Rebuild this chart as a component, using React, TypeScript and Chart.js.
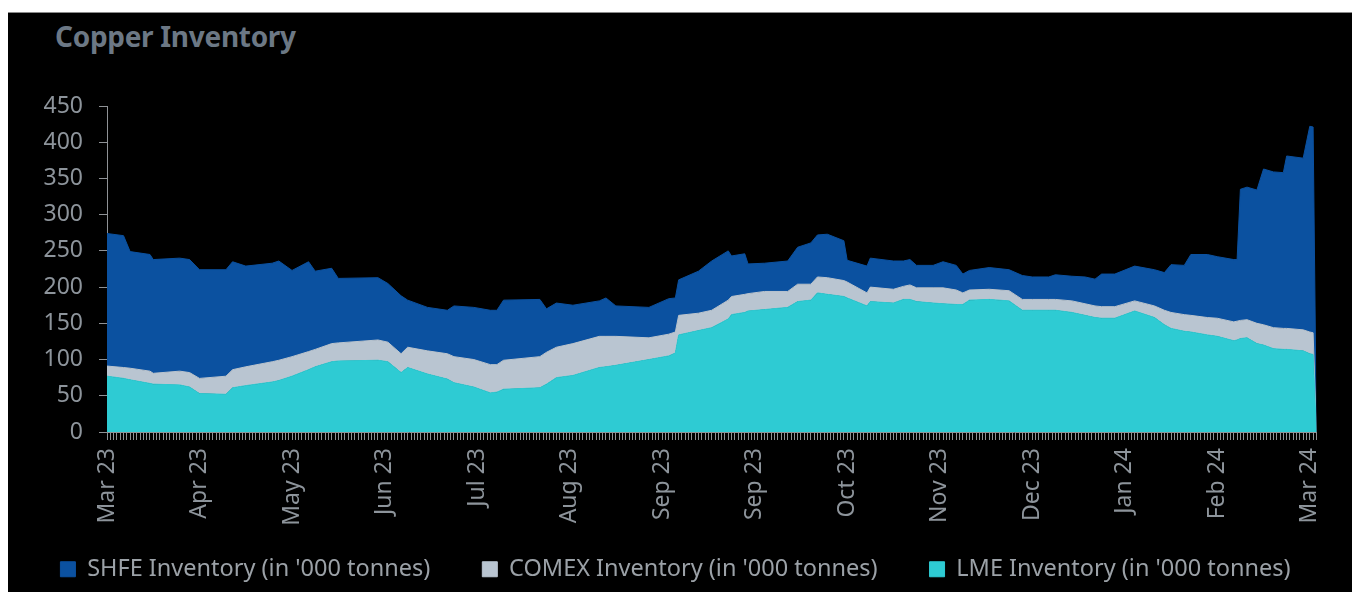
import React, { useEffect, useRef } from "react";
import { Chart, registerables } from "chart.js";

Chart.register(...registerables);

// Day index (0 = first daily observation, ~mid-March 2023)
const DAYS = [
  0, 5, 7, 13, 14, 22, 25, 28, 36, 38, 42, 50, 52, 56, 61, 63, 68, 70, 82, 85,
  89, 91, 97, 103, 105, 111, 116, 118, 120, 131, 133, 136, 141, 149, 151, 154,
  164, 170, 172, 173, 179, 183, 188, 189, 193, 194, 199, 206, 209, 213, 215,
  218, 223, 224, 230, 231, 238, 241, 243, 245, 250, 253, 257, 259, 261, 267,
  273, 277, 280, 285, 287, 292, 296, 299, 301, 305, 311, 317, 320, 322, 326,
  328, 333, 336, 341, 342, 343, 345, 348, 350, 353, 356, 357, 362, 364, 365,
  366,
];

const SHFE = [
  183, 182, 161, 161, 157, 156, 156, 150, 147, 149, 139, 136, 137, 119, 124,
  108, 104, 89, 86, 81, 80, 65, 60, 60, 70, 72, 75, 75, 83, 79, 60, 61, 53, 49,
  53, 42, 42, 49, 47, 49, 58, 68, 68, 56, 56, 41, 39, 42, 51, 57, 58, 60, 55,
  30, 37, 40, 39, 35, 35, 31, 31, 36, 34, 26, 27, 30, 29, 33, 31, 31, 34, 34,
  37, 37, 45, 45, 48, 50, 52, 66, 68, 84, 87, 85, 86, 85, 181, 183, 184, 215,
  215, 215, 238, 237, 284, 284, 0,
];

const COMEX = [
  14, 15, 16, 17, 15, 19, 20, 21, 25, 25, 26, 28, 28, 27, 25, 24, 25, 25, 28,
  27, 26, 28, 32, 35, 36, 38, 39, 38, 40, 43, 44, 42, 44, 43, 42, 40, 30, 30,
  29, 27, 24, 24, 26, 25, 25, 24, 25, 22, 24, 22, 22, 23, 22, 22, 18, 20, 19,
  18, 20, 19, 21, 22, 20, 16, 14, 14, 14, 15, 15, 15, 15, 16, 16, 16, 16, 16,
  14, 16, 20, 22, 23, 23, 24, 25, 26, 26, 25, 25, 28, 28, 29, 29, 29, 29, 30,
  30, 0,
];

const LME = [
  77, 74, 72, 67, 66, 65, 62, 53, 52, 61, 64, 69, 71, 77, 86, 90, 97, 98, 99,
  97, 82, 89, 80, 73, 68, 62, 54, 55, 59, 61, 66, 75, 78, 89, 90, 92, 100, 105,
  109, 134, 140, 144, 156, 162, 165, 167, 169, 172, 180, 182, 192, 190, 187,
  185, 174, 180, 178, 183, 183, 180, 178, 177, 176, 176, 182, 183, 181, 168,
  168, 168, 168, 165, 161, 158, 157, 157, 167, 158, 148, 143, 139, 138, 134,
  132, 126, 127, 129, 130, 122, 120, 115, 114, 114, 112, 108, 107, 0,
];

const X_LABELS = [
  "Mar 23", "Apr 23", "May 23", "Jun 23", "Jul 23", "Aug 23", "Sep 23",
  "Sep 23", "Oct 23", "Nov 23", "Dec 23", "Jan 24", "Feb 24", "Mar 24",
];
const LABEL_EVERY = 28;
const LAST_DAY = 366;

const SERIES_NAMES = [
  "LME Inventory (in '000 tonnes)",
  "COMEX Inventory (in '000 tonnes)",
  "SHFE Inventory (in '000 tonnes)",
];

const C_LME = "#2ecbd3";
const C_COMEX = "#b9c5d1";
const C_SHFE = "#0b51a0";
const TXT = "#8d949b";
const AXIS = "#8f9296";

export default function App() {
  const ref = useRef<HTMLCanvasElement>(null);

  useEffect(() => {
    if (!ref.current) return;
    const pts = (vals: number[]) => DAYS.map((d, i) => ({ x: d, y: vals[i] }));
    const font = { family: "'Noto Sans', sans-serif", size: 23 };
    const chart = new Chart(ref.current, {
      type: "line",
      data: {
        datasets: [
          {
            label: SERIES_NAMES[0],
            data: pts(LME),
            backgroundColor: C_LME,
            borderColor: C_LME,
            fill: "origin",
          },
          {
            label: SERIES_NAMES[1],
            data: pts(COMEX),
            backgroundColor: C_COMEX,
            borderColor: C_COMEX,
            fill: "-1",
          },
          {
            label: SERIES_NAMES[2],
            data: pts(SHFE),
            backgroundColor: C_SHFE,
            borderColor: C_SHFE,
            fill: "-1",
          },
        ],
      },
      options: {
        animation: false,
        responsive: false,
        maintainAspectRatio: false,
        layout: { padding: { top: 93, right: 9, bottom: 2, left: 0 } },
        elements: {
          point: { radius: 0 },
          line: { tension: 0, borderWidth: 1 },
        },
        scales: {
          x: {
            type: "linear",
            min: 0,
            max: LAST_DAY,
            grid: {
              display: true,
              drawOnChartArea: false,
              drawTicks: true,
              tickLength: 8,
              color: AXIS,
            },
            border: { display: true, color: AXIS, width: 1 },
            ticks: {
              autoSkip: false,
              minRotation: 90,
              maxRotation: 90,
              padding: 8,
              color: TXT,
              font,
              callback: (v: any) =>
                Number(v) % LABEL_EVERY === 0
                  ? X_LABELS[Number(v) / LABEL_EVERY] ?? ""
                  : "",
            },
            afterBuildTicks: (s: any) => {
              const t = [];
              for (let i = 0; i <= LAST_DAY; i++) t.push({ value: i });
              s.ticks = t;
            },
            afterFit: (s: any) => {
              s.height = 73.5;
              // let the rotated month labels extend into the legend's empty top band
              s._computeLabelArea = () => undefined;
            },
          },
          y: {
            stacked: true,
            min: 0,
            max: 450,
            grid: {
              display: true,
              drawOnChartArea: false,
              drawTicks: true,
              tickLength: 8,
              color: AXIS,
            },
            border: { display: true, color: AXIS, width: 1 },
            ticks: { stepSize: 50, autoSkip: false, padding: 16, color: TXT, font },
            afterFit: (s: any) => {
              s.width = 99;
            },
          },
        },
        plugins: {
          legend: {
            position: "bottom",
            reverse: true,
            labels: {
              boxWidth: 15,
              boxHeight: 15,
              padding: 52,
              color: "#9ba1a7",
              font: { family: "'Noto Sans', sans-serif", size: 23.5 },
            },
          },
          tooltip: { enabled: false },
          title: { display: false },
        },
      },
    } as any);
    return () => chart.destroy();
  }, []);

  return (
    <div
      style={{
        position: "fixed",
        left: 8,
        top: 12,
        right: 0,
        bottom: 0,
        background: "#000",
        borderTop: "1px solid #8a8a8a",
        overflow: "hidden",
      }}
    >
      <div
        style={{
          position: "absolute",
          left: 47,
          top: 6,
          fontFamily: "'Noto Sans', sans-serif",
          fontWeight: 700,
          fontSize: 28,
          lineHeight: "34px",
          color: "#6c7885",
          letterSpacing: "-0.3px",
          whiteSpace: "nowrap",
        }}
      >
        Copper Inventory
      </div>
      <canvas
        ref={ref}
        width={1344}
        height={580}
        style={{ position: "absolute", left: 0, top: 0, width: 1344, height: 580 }}
      />
    </div>
  );
}
